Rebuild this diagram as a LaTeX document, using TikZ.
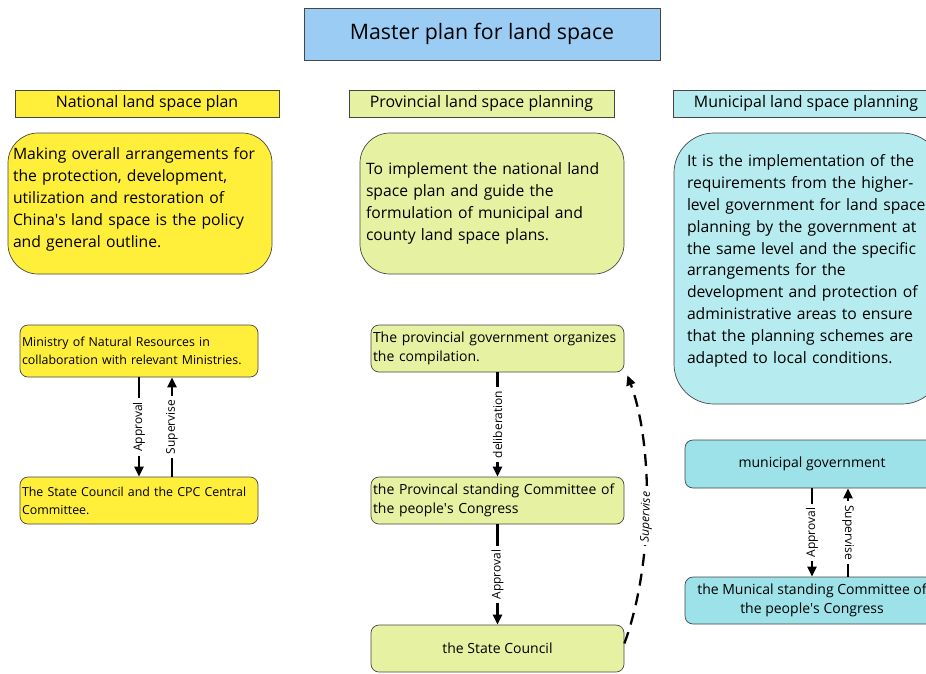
\documentclass[tikz,border=0pt]{standalone}
\usepackage{fontspec}
\setmainfont{Open Sans}
\usetikzlibrary{arrows.meta}

\definecolor{titleblue}{RGB}{154,204,244}
\definecolor{natyellow}{RGB}{255,238,58}
\definecolor{provgreen}{RGB}{230,242,162}
\definecolor{municyan}{RGB}{182,236,240}
\definecolor{municyandark}{RGB}{156,226,232}
\definecolor{edgegray}{RGB}{70,70,70}

\tikzset{
  plainbox/.style={draw=edgegray, line width=0.7pt, inner sep=0pt, anchor=center},
  headbox/.style={plainbox, minimum height=27pt, font=\fontsize{15.9}{18}\selectfont},
  descbox/.style={plainbox, align=left, font=\fontsize{15.7}{21.8}\selectfont},
  stepbox/.style={plainbox, rounded corners=8pt, font=\fontsize{12.4}{17.8}\selectfont},
  flow/.style={line width=2.3pt, -{Triangle[length=10pt,width=9pt]}},
  flowlabel/.style={midway, fill=white, inner xsep=4pt, inner ysep=1pt, font=\fontsize{12}{14}\selectfont},
}

\begin{document}
\begin{tikzpicture}[x=1pt,y=-1pt]
  \useasboundingbox (0,0) rectangle (926,673);
  \clip (0,0) rectangle (926,673);

  % title
  \node[plainbox, fill=titleblue, minimum width=356pt, minimum height=52pt,
        font=\fontsize{21.3}{25}\selectfont] (title) at (482,34) {Master plan for land space};

  % column headers
  \node[headbox, fill=natyellow, minimum width=264pt] (hnat) at (147,103.5) {National land space plan};
  \node[headbox, fill=provgreen, minimum width=265pt] (hprov) at (481.5,103.5) {Provincial land space planning};
  \node[headbox, fill=municyan, minimum width=266pt] (hmun) at (806,103.5) {Municipal land space planning};

  % descriptions (the empty last line lifts the text block a little)
  \node[descbox, fill=natyellow, rounded corners=30pt, minimum width=264pt, minimum height=141pt,
        text width=254pt] (dnat) at (140,203.5)
    {Making overall arrangements for\\
     the protection, development,\\
     utilization and restoration of\\
     China\textquotesingle s land space is the policy\\
     and general outline.\\[-9.8pt]\mbox{}};
  \node[descbox, fill=provgreen, rounded corners=30pt, minimum width=264pt, minimum height=141pt,
        text width=252pt] (dprov) at (492,203.5)
    {To implement the national land\\
     space plan and guide the\\
     formulation of municipal and\\
     county land space plans.};
  \node[descbox, fill=municyan, rounded corners=40pt, minimum width=268pt, minimum height=271pt,
        text width=242pt] (dmun) at (808,268.5)
    {It is the implementation of the\\
     requirements from the higher-\\
     level government for land space\\
     planning by the government at\\
     the same level and the specific\\
     arrangements for the\\
     development and protection of\\
     administrative areas to ensure\\
     that the planning schemes are\\
     adapted to local conditions.\\[-2.8pt]\mbox{}};

  % national procedure
  \node[stepbox, fill=natyellow, minimum width=238pt, minimum height=52pt, align=left,
        text width=234pt] (mnr) at (139,351)
    {Ministry of Natural Resources in\\collaboration with relevant Ministries.};
  \node[stepbox, fill=natyellow, minimum width=238pt, minimum height=47pt, align=left,
        text width=234pt] (scc) at (139,500.5)
    {The State Council and the CPC Central\\Committee.};

  \draw[flow] (mnr.south) -- node[flowlabel, rotate=90] {Approval} (scc.north);
  \draw[flow] ([xshift=33pt]scc.north) -- node[flowlabel, rotate=90] {Supervise} ([xshift=33pt]mnr.south);

  % provincial procedure
  \node[stepbox, fill=provgreen, minimum width=253pt, minimum height=47pt, align=left,
        text width=249pt, font=\fontsize{14}{18.8}\selectfont] (pgov) at (497.5,348.5)
    {The provincial government organizes\\the compilation.};
  \node[stepbox, fill=provgreen, minimum width=253pt, minimum height=47pt, align=left,
        text width=249pt, font=\fontsize{14}{18.5}\selectfont] (pcong) at (497.5,500.5)
    {the Provincal standing Committee of\\the people\textquotesingle s Congress};
  \node[stepbox, fill=provgreen, minimum width=253pt, minimum height=47pt,
        font=\fontsize{14}{18}\selectfont] (pstate) at (497.5,648.5)
    {the State Council};

  \draw[flow] (pgov.south) -- node[flowlabel, rotate=90] {deliberation} (pcong.north);
  \draw[flow] (pcong.south) -- node[flowlabel, rotate=90] {Approval} (pstate.north);
  \draw[flow, dash pattern=on 12pt off 8pt]
    ([yshift=5pt]pstate.east) .. controls (655,560) and (652,440) ..
    node[pos=0.45, sloped, fill=white, inner xsep=3pt, inner ysep=1pt, font=\fontsize{12}{14}\itshape] {Supervise}
    ([xshift=3pt,yshift=-3pt]pgov.south east);

  % municipal procedure
  \node[stepbox, fill=municyandark, minimum width=254pt, minimum height=48pt,
        font=\fontsize{14}{19}\selectfont] (mgov) at (812,464)
    {municipal government};
  \node[stepbox, fill=municyandark, minimum width=254pt, minimum height=47pt, align=center,
        font=\fontsize{14}{19}\selectfont] (mcong) at (812,600.5)
    {the Munical standing Committee of\\the people\textquotesingle s Congress};

  \draw[flow] (mgov.south) -- node[flowlabel, rotate=90] {Approval} (mcong.north);
  \draw[flow] ([xshift=36pt]mcong.north) -- node[flowlabel, rotate=-90] {Supervise} ([xshift=36pt]mgov.south);
\end{tikzpicture}
\end{document}
